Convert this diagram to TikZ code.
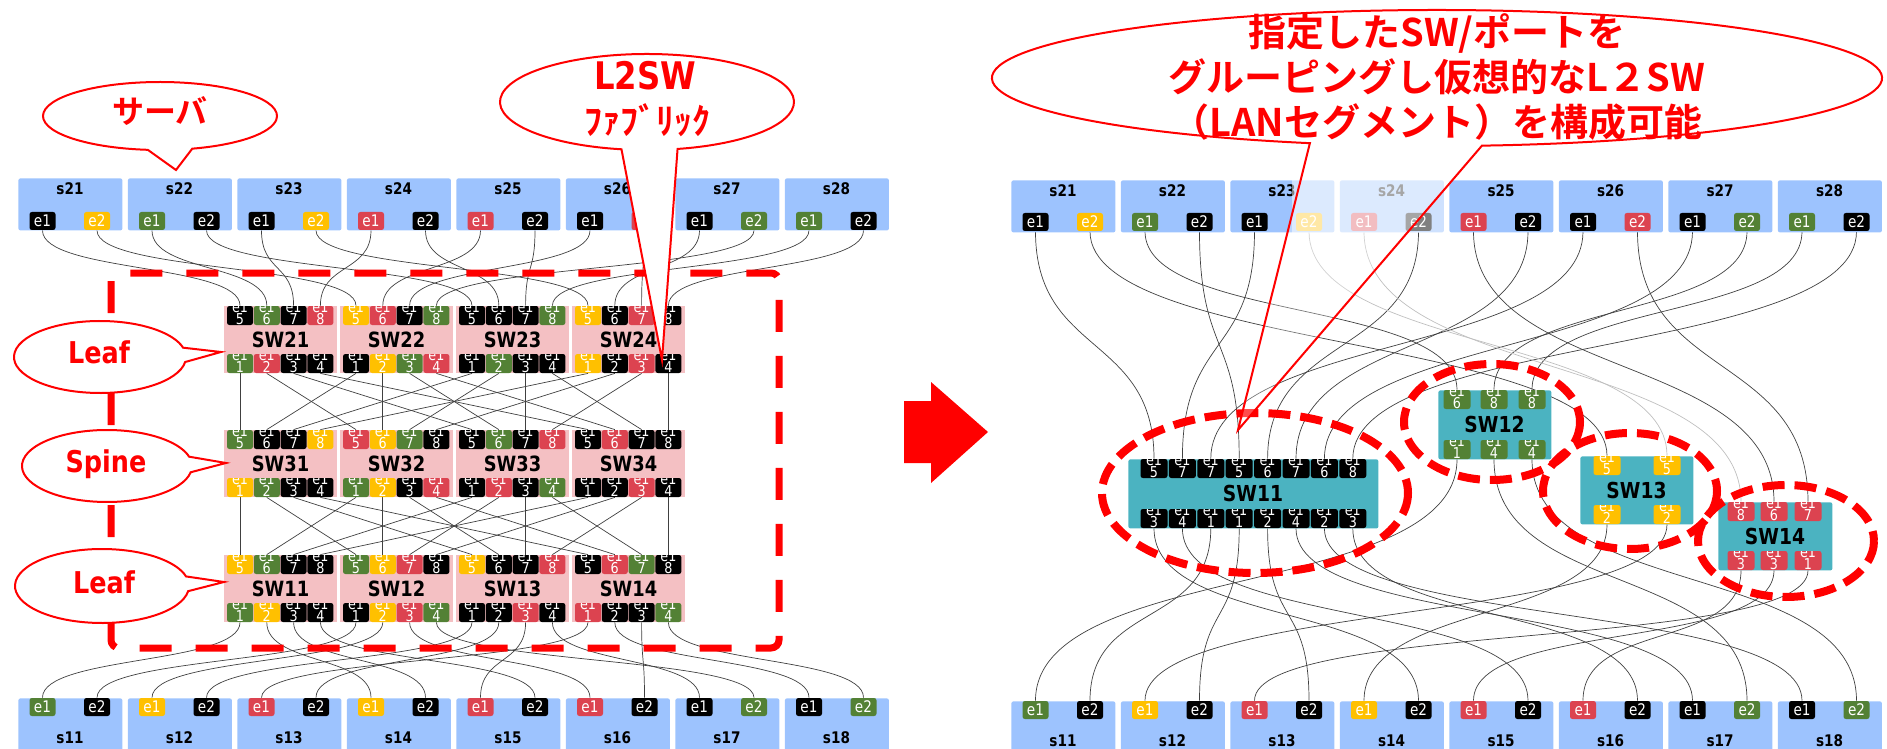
\documentclass[tikz,border=0pt]{standalone}
\usepackage{fontspec}
\newfontfamily\tah{DejaVu Sans}[FakeStretch=0.85]
\newfontfamily\jpb{Noto Sans CJK JP Bold}
\definecolor{sb}{HTML}{9DC3FE}
\definecolor{pk}{HTML}{F4C0C3}
\definecolor{tl}{HTML}{4BB3C1}
\definecolor{cg}{HTML}{538135}
\definecolor{cy}{HTML}{FFC000}
\definecolor{cr}{HTML}{DC4350}
\definecolor{ck}{HTML}{000000}
\definecolor{rd}{HTML}{FF0000}
\pgfdeclarelayer{bg}
\pgfsetlayers{bg,main}
\newcommand\lnk[4][cn]{\draw[#1] (#2.south) .. controls +(0,#4) and +(0,-#4) .. (#3.north);}
\tikzset{
 cn/.style={draw=black!75, line width=0.35pt},
 cnf/.style={draw=black!25, line width=0.35pt},
 srvbox/.style={fill=sb, minimum width=52pt, minimum height=26pt, inner sep=0pt, anchor=north west, rounded corners=1pt},
 srvbot/.style={srvbox, minimum height=28pt},
 slab/.style={font=\tah\bfseries\fontsize{8}{8}\selectfont, inner sep=0pt},
 sport/.style={fill=#1, text=white, font=\tah\fontsize{8}{8}\selectfont, minimum width=13pt, minimum height=9pt, inner sep=0pt, rounded corners=1.2pt},
 ptxt/.style={font=\tah\fontsize{7.5}{7.5}\selectfont, text=white, inner sep=0pt, anchor=base},
 wport/.style 2 args={fill=#1, minimum width=13pt, minimum height=9.5pt, inner sep=0pt, rounded corners=1.2pt,
   path picture={\node[ptxt] at ([yshift=-3.4pt]path picture bounding box.north) {e1};
                 \node[ptxt] at ([yshift=0.3pt]path picture bounding box.south) {#2};}},
 vport/.style 2 args={wport={#1}{#2}, minimum width=13.5pt},
 swbox/.style={fill=pk, minimum width=56.5pt, minimum height=33.5pt, inner sep=0pt, anchor=north west},
 swlab/.style={font=\tah\bfseries\fontsize{10.5}{11}\selectfont, inner sep=0pt},
 vbox/.style={fill=tl, inner sep=0pt, anchor=north west, rounded corners=1pt},
 vlab/.style={font=\tah\bfseries\fontsize{11}{11}\selectfont, inner sep=0pt},
 vdash/.style={draw=rd, line width=4pt, dash pattern=on 11pt off 5pt},
 callout/.style={draw=rd, line width=1pt, fill=white},
 ctext/.style={text=rd, inner sep=0pt},
}
\begin{document}
\begin{tikzpicture}[x=0.5pt,y=-0.5pt]
\useasboundingbox (0,0) rectangle (1887,749);

% ---------- left: servers ----------
\foreach \s/\a/\b [count=\n from 0] in {21/ck/cy,22/cg/ck,23/ck/cy,24/cr/ck,25/cr/ck,26/ck/cr,27/ck/cg,28/cg/ck}{
  \pgfmathsetmacro\X{18+109.5*\n}
  \node[srvbox] (Ls\s) at (\X,178) {};
  \node[slab] (Ls\s n) at (\X+52,189) {s\s};
  \node[sport=\a] (Ls\s e1) at (\X+24.5,221) {e1};
  \node[sport=\b] (Ls\s e2) at (\X+79,221) {e2};
}
\foreach \s/\a/\b [count=\n from 0] in {11/cg/ck,12/cy/ck,13/cr/ck,14/cy/ck,15/cr/ck,16/cr/ck,17/ck/cg,18/ck/cg}{
  \pgfmathsetmacro\X{18+109.5*\n}
  \node[srvbot] (Ls\s) at (\X,698) {};
  \node[slab] (Ls\s n) at (\X+52,738) {s\s};
  \node[sport=\a] (Ls\s e1) at (\X+24.5,707) {e1};
  \node[sport=\b] (Ls\s e2) at (\X+79,707) {e2};
}

% ---------- left: switches ----------
\foreach \s/\Y/\n/\ta/\tb/\tc/\td/\ba/\bb/\bc/\bd in {
 21/306/0/ck/cg/ck/cr/cg/cr/ck/ck,
 22/306/1/cy/cr/ck/cg/ck/cy/cg/cr,
 23/306/2/ck/ck/ck/cg/ck/cg/ck/ck,
 24/306/3/cy/ck/cr/ck/cy/ck/cr/ck,
 31/430/0/cg/ck/ck/cy/cy/cg/ck/ck,
 32/430/1/cr/cy/cg/ck/cg/cy/ck/cr,
 33/430/2/ck/cg/ck/cr/ck/cr/ck/cg,
 34/430/3/ck/cr/ck/ck/ck/ck/cr/ck,
 11/555/0/cy/cg/ck/ck/cg/cy/ck/ck,
 12/555/1/cg/cy/cr/ck/ck/cy/cr/cg,
 13/555/2/cy/ck/ck/cr/ck/ck/cr/ck,
 14/555/3/ck/cr/cg/ck/cr/ck/ck/cg}{
  \pgfmathsetmacro\X{224+116*\n}
  \node[swbox] (L\s) at (\X,\Y) {};
  \node[swlab] (L\s n) at (\X+56.5,\Y+33.5) {SW\s};
  \node[wport={\ta}{5}] (L\s t5) at (\X+16,\Y+9.5) {};
  \node[wport={\tb}{6}] (L\s t6) at (\X+42.8,\Y+9.5) {};
  \node[wport={\tc}{7}] (L\s t7) at (\X+69.6,\Y+9.5) {};
  \node[wport={\td}{8}] (L\s t8) at (\X+96.4,\Y+9.5) {};
  \node[wport={\ba}{1}] (L\s b1) at (\X+16,\Y+57.5) {};
  \node[wport={\bb}{2}] (L\s b2) at (\X+42.8,\Y+57.5) {};
  \node[wport={\bc}{3}] (L\s b3) at (\X+69.6,\Y+57.5) {};
  \node[wport={\bd}{4}] (L\s b4) at (\X+96.4,\Y+57.5) {};
}

% ---------- right: servers ----------
\foreach \s/\a/\b [count=\n from 0] in {21/ck/cy,22/cg/ck,23/ck/cy,24/cr/ck,25/cr/ck,26/ck/cr,27/ck/cg,28/cg/ck}{
  \pgfmathsetmacro\X{1011+109.5*\n}
  \node[srvbox] (Rs\s) at (\X,180) {};
  \node[slab] (Rs\s n) at (\X+52,191) {s\s};
  \node[sport=\a] (Rs\s e1) at (\X+24.5,222) {e1};
  \node[sport=\b] (Rs\s e2) at (\X+79,222) {e2};
}
\fill[white, opacity=0.5] (1292,179) rectangle (1446,233);
\foreach \s/\a/\b [count=\n from 0] in {11/cg/ck,12/cy/ck,13/cr/ck,14/cy/ck,15/cr/ck,16/cr/ck,17/ck/cg,18/ck/cg}{
  \pgfmathsetmacro\X{1011+109.5*\n}
  \node[srvbot] (Rs\s) at (\X,701) {};
  \node[slab] (Rs\s n) at (\X+52,741) {s\s};
  \node[sport=\a] (Rs\s e1) at (\X+24.5,710) {e1};
  \node[sport=\b] (Rs\s e2) at (\X+79,710) {e2};
}

% ---------- right: virtual switches ----------
\node[vbox, minimum width=125pt, minimum height=34.5pt] (V11) at (1128,459) {};
\node[vlab] (V11n) at (1253,493.5) {SW11};
\foreach \tp/\bp [count=\k] in {5/3,7/4,7/1,5/1,6/2,7/4,6/2,8/3}{
  \node[vport={ck}{\tp}] (V11t\k) at (1154+28.4*\k-28.4,468.5) {};
  \node[vport={ck}{\bp}] (V11b\k) at (1154+28.4*\k-28.4,518.5) {};
}
\node[vbox, minimum width=56.5pt, minimum height=34.5pt] (V12) at (1438,390) {};
\node[vlab] (V12n) at (1494.5,424.5) {SW12};
\foreach \tp/\bp/\x [count=\k] in {6/1/1457,8/4/1494,8/4/1532}{
  \node[vport={cg}{\tp}] (V12t\k) at (\x,399.5) {};
  \node[vport={cg}{\bp}] (V12b\k) at (\x,449.5) {};
}
\node[vbox, minimum width=56.5pt, minimum height=34pt] (V13) at (1580,456) {};
\node[vlab] (V13n) at (1636.5,490) {SW13};
\foreach \tp/\bp/\x [count=\k] in {5/2/1607,5/2/1667}{
  \node[vport={cy}{\tp}] (V13t\k) at (\x,465.5) {};
  \node[vport={cy}{\bp}] (V13b\k) at (\x,514.5) {};
}
\node[vbox, minimum width=57pt, minimum height=34pt] (V14) at (1718,502) {};
\node[vlab] (V14n) at (1775,536) {SW14};
\foreach \tp/\bp/\x [count=\k] in {8/3/1741,6/3/1774,7/1/1808}{
  \node[vport={cr}{\tp}] (V14t\k) at (\x,511.5) {};
  \node[vport={cr}{\bp}] (V14b\k) at (\x,560.5) {};
}

% ---------- connectors ----------
\begin{pgfonlayer}{bg}
\foreach \a/\b in {Ls21e1/L21t5,Ls22e1/L21t6,Ls23e1/L21t7,Ls24e1/L21t8,
  Ls21e2/L22t5,Ls25e1/L22t6,Ls26e1/L22t7,Ls27e2/L22t8,
  Ls22e2/L23t5,Ls24e2/L23t6,Ls25e2/L23t7,Ls28e1/L23t8,
  Ls23e2/L24t5,Ls27e1/L24t6,Ls26e2/L24t7,Ls28e2/L24t8}{\lnk{\a}{\b}{42}}
\foreach \i in {1,...,4}{\foreach \j in {1,...,4}{
  \pgfmathtruncatemacro\p{4+\i}\draw[cn] (L2\i b\j.south) -- (L3\j t\p.north);}}
\foreach \j in {1,...,4}{\foreach \i in {1,...,4}{
  \pgfmathtruncatemacro\p{4+\j}\draw[cn] (L3\j b\i.south) -- (L1\i t\p.north);}}
\foreach \a/\b in {L11b1/Ls11e1,L11b2/Ls14e1,L11b3/Ls14e2,L11b4/Ls15e2,
  L12b1/Ls11e2,L12b2/Ls12e1,L12b3/Ls16e1,L12b4/Ls17e2,
  L13b1/Ls12e2,L13b2/Ls13e2,L13b3/Ls15e1,L13b4/Ls17e1,
  L14b1/Ls13e1,L14b2/Ls18e1,L14b3/Ls16e2,L14b4/Ls18e2}{\lnk{\a}{\b}{42}}
% right, top
\foreach \a/\b/\h in {Rs21e1/V11t1/125,Rs23e1/V11t2/125,Rs26e1/V11t3/125,Rs22e2/V11t4/125,
  Rs24e2/V11t5/125,Rs25e2/V11t6/125,Rs27e1/V11t7/125,Rs28e2/V11t8/125,
  Rs22e1/V12t1/90,Rs27e2/V12t2/90,Rs28e1/V12t3/90,
  Rs21e2/V13t1/120,Rs25e1/V14t2/150,Rs26e2/V14t3/150}{\lnk{\a}{\b}{\h}}
\lnk[cnf]{Rs23e2}{V13t2}{120}
\lnk[cnf]{Rs24e1}{V14t1}{150}
% right, bottom
\foreach \a/\b/\h in {V11b1/Rs14e2/100,V11b2/Rs15e2/100,V11b3/Rs11e2/100,V11b4/Rs12e2/100,
  V11b5/Rs13e2/100,V11b6/Rs17e1/100,V11b7/Rs18e1/100,V11b8/Rs16e2/100,
  V12b1/Rs11e1/140,V12b2/Rs17e2/140,V12b3/Rs18e2/140,
  V13b1/Rs14e1/100,V13b2/Rs12e1/100,
  V14b1/Rs16e1/80,V14b2/Rs15e1/80,V14b3/Rs13e1/80}{\lnk{\a}{\b}{\h}}
\end{pgfonlayer}

% ---------- dashed groupings ----------
\draw[rd, line width=3.5pt, dash pattern=on 16pt off 12pt, rounded corners=4pt] (111,273) rectangle (779,648);
\draw[vdash] (1255,493) ellipse [x radius=153, y radius=80];
\draw[vdash] (1492,422) ellipse [x radius=88, y radius=58];
\draw[vdash] (1630,491) ellipse [x radius=87, y radius=58];
\draw[vdash] (1786,541) ellipse [x radius=88, y radius=56];

% ---------- arrow ----------
\fill[rd] (904,401) -- (931,401) -- (931,382) -- (988,432) -- (931,483) -- (931,463) -- (904,463) -- cycle;

% ---------- callouts ----------
\draw[callout] (160,116) ++(96:117 and 34) arc[start angle=96, end angle=434, x radius=117, y radius=34] -- (176,170) -- cycle;
\node[ctext, font=\jpb\fontsize{16}{16}\selectfont] (tsv) at (160,111) {サーバ};
\draw[callout] (647,102) ++(100:147 and 48) arc[start angle=100, end angle=438, x radius=147, y radius=48] -- (662,360) -- cycle;
\node[ctext, font=\tah\bfseries\fontsize{19}{19}\selectfont] (tl2) at (645,76) {L2SW};
\node[ctext, font=\jpb\fontsize{18}{18}\selectfont] (tfb) at (647,120) {ﾌｧﾌﾞﾘｯｸ};
\draw[callout] (100,357) ++(8:86 and 36) arc[start angle=8, end angle=345, x radius=86, y radius=36] -- (221,352) -- cycle;
\node[ctext, font=\tah\bfseries\fontsize{15}{15}\selectfont] (tleafa) at (99,352) {Leaf};
\draw[callout] (107,466) ++(10:85 and 36) arc[start angle=10, end angle=345, x radius=85, y radius=36] -- (226,463) -- cycle;
\node[ctext, font=\tah\bfseries\fontsize{15}{15}\selectfont] (tspine) at (106,464) {Spine};
\draw[callout] (102,586) ++(8:87 and 37) arc[start angle=8, end angle=345, x radius=87, y radius=37] -- (224,582) -- cycle;
\node[ctext, font=\tah\bfseries\fontsize{15}{15}\selectfont] (tleafb) at (104,582) {Leaf};
\draw[callout, fill opacity=0.3] (1437,78) ++(106.6:445 and 68) arc[start angle=106.6, end angle=444.2, x radius=445, y radius=68] -- (1238,430) -- cycle;
\node[ctext, font=\jpb\fontsize{19}{22.5}\selectfont, align=center] (tbig) at (1437,77) {指定したSW/ポートを\\グルーピングし仮想的なL２SW\\（LANセグメント）を構成可能};
\end{tikzpicture}
\end{document}
